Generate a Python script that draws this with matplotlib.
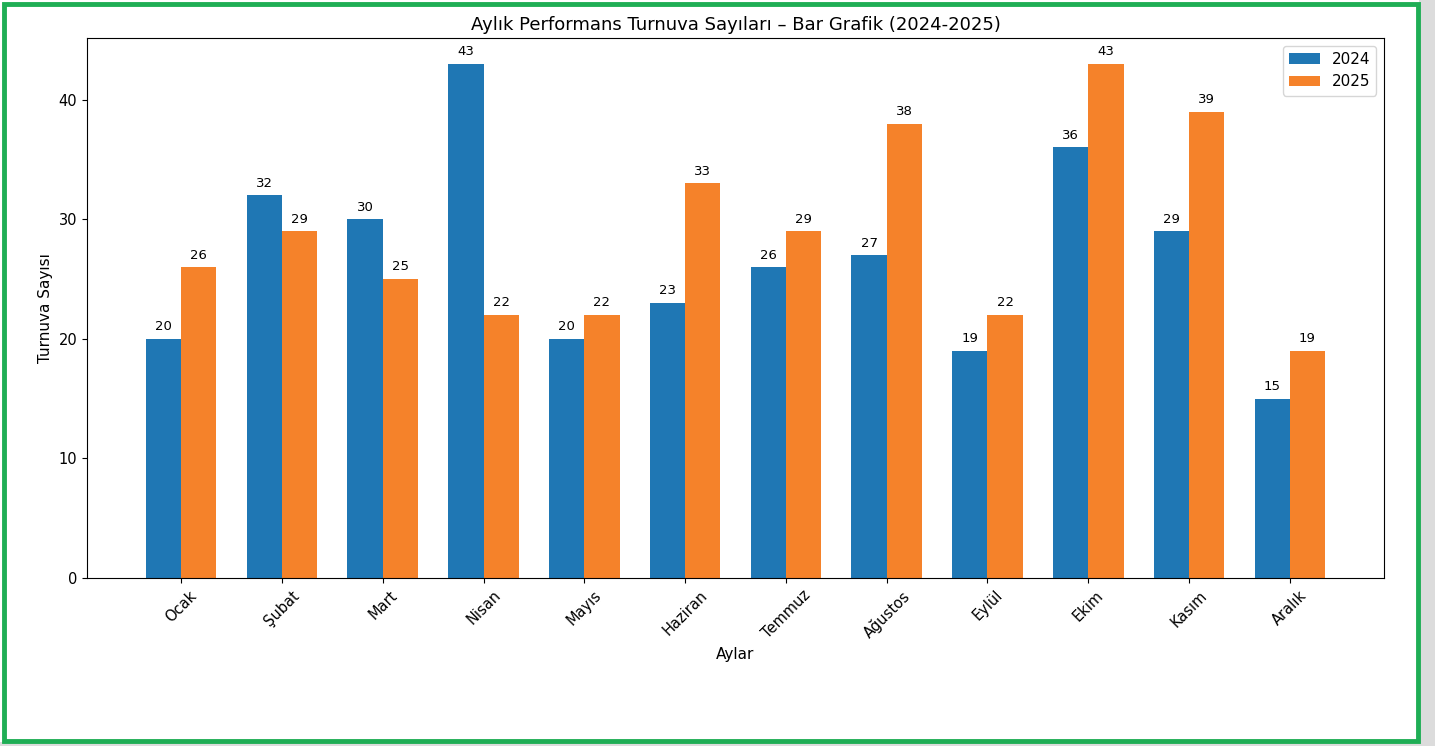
import matplotlib.pyplot as plt
import numpy as np
from matplotlib.patches import Rectangle

months = ['Ocak', 'Şubat', 'Mart', 'Nisan', 'Mayıs', 'Haziran',
          'Temmuz', 'Ağustos', 'Eylül', 'Ekim', 'Kasım', 'Aralık']
values2024 = [20, 32, 30, 43, 20, 23, 26, 27, 19, 36, 29, 15]
values2025 = [26, 29, 25, 22, 22, 33, 29, 38, 22, 43, 39, 19]

fig = plt.figure(figsize=(14.35, 7.46), dpi=100)
ax = fig.add_axes([0.0606, 0.2252, 0.9039, 0.7238])

x = np.arange(len(months))
width = 0.35
bars1 = ax.bar(x - width / 2, values2024, width, label='2024', color='#1f77b4')
bars2 = ax.bar(x + width / 2, values2025, width, label='2025', color='#f5822a')

for bars in (bars1, bars2):
    for b in bars:
        ax.annotate(f'{int(b.get_height())}',
                    xy=(b.get_x() + b.get_width() / 2, b.get_height()),
                    xytext=(0, 4), textcoords='offset points',
                    ha='center', va='bottom', fontsize=9.5)

ax.set_xticks(x)
ax.set_xticklabels(months, rotation=45, fontsize=10.5)
ax.tick_params(axis='y', labelsize=10.5)
ax.set_xlabel('Aylar', fontsize=11)
ax.set_ylabel('Turnuva Sayısı', fontsize=11)
ax.set_title('Aylık Performans Turnuva Sayıları – Bar Grafik (2024-2025)', fontsize=13)
ax.legend(fontsize=11)

# grey shadow outside the frame (right and bottom)
fig.patches.append(Rectangle((0.989, 0), 0.011, 1, transform=fig.transFigure,
                             facecolor='#dcdcdc', edgecolor='none'))
fig.patches.append(Rectangle((0, 0), 1, 0.005, transform=fig.transFigure,
                             facecolor='#dcdcdc', edgecolor='none'))
# green frame around the screenshot
fig.patches.append(Rectangle((0.003, 0.007), 0.985, 0.987, transform=fig.transFigure,
                             fill=False, edgecolor='#1fae55', linewidth=3.5))

fig.savefig('out.png', dpi=100)
